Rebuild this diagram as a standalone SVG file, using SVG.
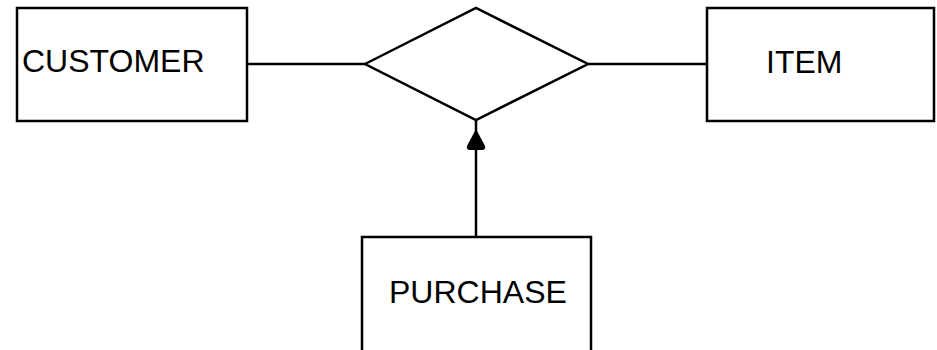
<svg xmlns="http://www.w3.org/2000/svg" width="937" height="350" viewBox="0 0 937 350">
<style>
.box{fill:#fff;stroke:#000;stroke-width:2.5}
.lbl{font-family:"Liberation Sans",Arial,sans-serif;font-size:32px;fill:#000}
.ln{stroke:#000;stroke-width:2.5;fill:none}
</style>
<rect width="937" height="350" fill="#fff"/>
<g id="connectors">
<line class="ln" x1="248" y1="64" x2="365" y2="64"/>
<line class="ln" x1="588" y1="64" x2="707" y2="64"/>
<line class="ln" x1="476" y1="237" x2="476" y2="120"/>
<path d="M476,129 L467,146 Q466,150 470,150 L482,150 Q486,150 485,146 Z" fill="#000"/>
</g>
<g id="customer">
<rect class="box" x="17" y="8" width="230" height="113"/>
<text class="lbl" x="22" y="72">CUSTOMER</text>
</g>
<g id="relationship">
<polygon class="ln" points="365,64 476,8 588,64 476,120"/>
</g>
<g id="item">
<rect class="box" x="707" y="8" width="227" height="113"/>
<text class="lbl" x="766" y="73">ITEM</text>
</g>
<g id="purchase">
<rect class="box" x="362" y="237" width="229" height="130"/>
<text class="lbl" x="389" y="303">PURCHASE</text>
</g>
</svg>
